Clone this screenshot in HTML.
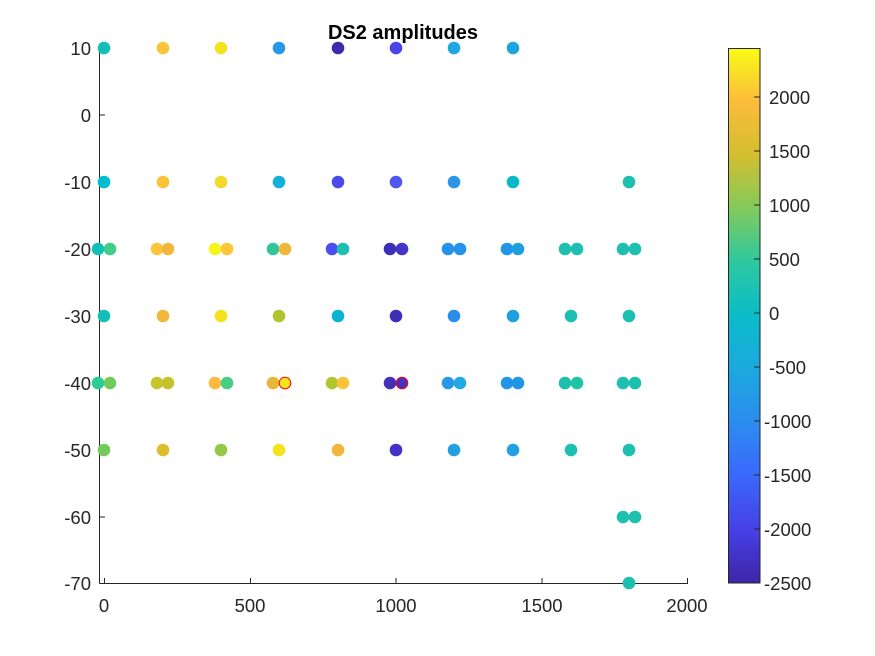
<!DOCTYPE html>
<html><head><meta charset="utf-8"><style>
body{margin:0;background:#fff}
svg{display:block}
text{font-family:"Liberation Sans",sans-serif;fill:#262626}
</style></head><body>
<svg width="875" height="656" xmlns="http://www.w3.org/2000/svg">
<defs>
<linearGradient id="par" x1="0" y1="1" x2="0" y2="0">
<stop offset="0" stop-color="#3e26a8"/>
<stop offset="0.1" stop-color="#4640e6"/>
<stop offset="0.2" stop-color="#3b67fc"/>
<stop offset="0.3" stop-color="#2c8cf0"/>
<stop offset="0.4" stop-color="#1ca9df"/>
<stop offset="0.5" stop-color="#0bbcc8"/>
<stop offset="0.6" stop-color="#2cc8a0"/>
<stop offset="0.7" stop-color="#82ca5c"/>
<stop offset="0.8" stop-color="#d3bf2f"/>
<stop offset="0.9" stop-color="#fbbc3c"/>
<stop offset="1" stop-color="#f9fb15"/>
</linearGradient>
</defs>
<text x="403" y="39" text-anchor="middle" font-size="20" font-weight="bold" style="fill:#000">DS2 amplitudes</text>
<g stroke="#262626" stroke-width="1" fill="none">
<line x1="99.5" y1="48" x2="99.5" y2="583.5"/>
<line x1="99.5" y1="583.5" x2="688" y2="583.5"/>
<line x1="99.5" y1="48" x2="105" y2="48"/>
<line x1="99.5" y1="115" x2="105" y2="115"/>
<line x1="99.5" y1="182" x2="105" y2="182"/>
<line x1="99.5" y1="249" x2="105" y2="249"/>
<line x1="99.5" y1="316" x2="105" y2="316"/>
<line x1="99.5" y1="383" x2="105" y2="383"/>
<line x1="99.5" y1="450" x2="105" y2="450"/>
<line x1="99.5" y1="517" x2="105" y2="517"/>
<line x1="104.5" y1="583.5" x2="104.5" y2="578"/>
<line x1="250.5" y1="583.5" x2="250.5" y2="578"/>
<line x1="396" y1="583.5" x2="396" y2="578"/>
<line x1="542" y1="583.5" x2="542" y2="578"/>
<line x1="687.5" y1="583.5" x2="687.5" y2="578"/>
</g>
<g font-size="18.5" text-anchor="end">
<text x="91" y="55">10</text>
<text x="91" y="122">0</text>
<text x="91" y="189">-10</text>
<text x="91" y="256">-20</text>
<text x="91" y="323">-30</text>
<text x="91" y="390">-40</text>
<text x="91" y="457">-50</text>
<text x="91" y="524">-60</text>
<text x="91" y="590">-70</text>
</g>
<g font-size="18.5" text-anchor="middle">
<text x="104" y="612">0</text>
<text x="250" y="612">500</text>
<text x="396" y="612">1000</text>
<text x="542" y="612">1500</text>
<text x="687" y="612">2000</text>
</g>
<rect x="728.5" y="48.5" width="31.5" height="534.5" fill="url(#par)" stroke="#262626"/>
<g stroke="#262626">
<line x1="754" y1="97" x2="760" y2="97"/><line x1="754" y1="151" x2="760" y2="151"/>
<line x1="754" y1="205" x2="760" y2="205"/><line x1="754" y1="259" x2="760" y2="259"/>
<line x1="754" y1="313" x2="760" y2="313"/><line x1="754" y1="367" x2="760" y2="367"/>
<line x1="754" y1="421" x2="760" y2="421"/><line x1="754" y1="475" x2="760" y2="475"/>
<line x1="754" y1="529" x2="760" y2="529"/>
</g>
<g font-size="18.5">
<text x="769" y="104">2000</text><text x="769" y="158">1500</text>
<text x="769" y="212">1000</text><text x="769" y="266">500</text>
<text x="769" y="320">0</text><text x="769" y="374">-500</text>
<text x="764" y="428">-1000</text><text x="764" y="482">-1500</text>
<text x="764" y="536">-2000</text><text x="764" y="590">-2500</text>
</g>
<g>
<circle cx="104" cy="48" r="6.3" fill="#14bfb5"/>
<circle cx="163" cy="48" r="6.3" fill="#fcc33a"/>
<circle cx="221" cy="48" r="6.3" fill="#f4e21f"/>
<circle cx="279" cy="48" r="6.3" fill="#2a98e8"/>
<circle cx="338" cy="48" r="6.3" fill="#3d2bac"/>
<circle cx="396" cy="48" r="6.3" fill="#4a45e6"/>
<circle cx="454" cy="48" r="6.3" fill="#1fa7e2"/>
<circle cx="513" cy="48" r="6.3" fill="#1fa4e0"/>

<circle cx="104" cy="182" r="6.3" fill="#00bdcf"/>
<circle cx="163" cy="182" r="6.3" fill="#fcc33a"/>
<circle cx="221" cy="182" r="6.3" fill="#f4d82a"/>
<circle cx="279" cy="182" r="6.3" fill="#14b0dc"/>
<circle cx="338" cy="182" r="6.3" fill="#4a4be8"/>
<circle cx="396" cy="182" r="6.3" fill="#4f57ee"/>
<circle cx="454" cy="182" r="6.3" fill="#2a94e8"/>
<circle cx="513" cy="182" r="6.3" fill="#05b9c8"/>
<circle cx="629" cy="182" r="6.3" fill="#1ebfb0"/>

<circle cx="98" cy="249" r="6.3" fill="#14bfb5"/><circle cx="110" cy="249" r="6.3" fill="#42cc8a"/>
<circle cx="157" cy="249" r="6.3" fill="#fcc43a"/><circle cx="168" cy="249" r="6.3" fill="#f2b73a"/>
<circle cx="215" cy="249" r="6.3" fill="#f7f41a"/><circle cx="227" cy="249" r="6.3" fill="#fcc53a"/>
<circle cx="273" cy="249" r="6.3" fill="#30c898"/><circle cx="285" cy="249" r="6.3" fill="#f2b73a"/>
<circle cx="332" cy="249" r="6.3" fill="#4a50f0"/><circle cx="343" cy="249" r="6.3" fill="#1ebfb0"/>
<circle cx="390" cy="249" r="6.3" fill="#3e2fb6"/><circle cx="402" cy="249" r="6.3" fill="#4536c8"/>
<circle cx="448" cy="249" r="6.3" fill="#2792ea"/><circle cx="460" cy="249" r="6.3" fill="#2792ea"/>
<circle cx="507" cy="249" r="6.3" fill="#2195e6"/><circle cx="518" cy="249" r="6.3" fill="#1ea0e0"/>
<circle cx="565" cy="249" r="6.3" fill="#1dc0b0"/><circle cx="577" cy="249" r="6.3" fill="#1dc0b0"/>
<circle cx="623" cy="249" r="6.3" fill="#1ebfb0"/><circle cx="635" cy="249" r="6.3" fill="#1ebfb0"/>

<circle cx="104" cy="316" r="6.3" fill="#14bfb5"/>
<circle cx="163" cy="316" r="6.3" fill="#f2b73a"/>
<circle cx="221" cy="316" r="6.3" fill="#f4e21f"/>
<circle cx="279" cy="316" r="6.3" fill="#afc42f"/>
<circle cx="338" cy="316" r="6.3" fill="#0cb2d2"/>
<circle cx="396" cy="316" r="6.3" fill="#3e2fb6"/>
<circle cx="454" cy="316" r="6.3" fill="#2a8ee9"/>
<circle cx="513" cy="316" r="6.3" fill="#1ea0e0"/>
<circle cx="571" cy="316" r="6.3" fill="#1dc0b0"/>
<circle cx="629" cy="316" r="6.3" fill="#1dc0b0"/>

<circle cx="98" cy="383" r="6.3" fill="#2ccb98"/><circle cx="110" cy="383" r="6.3" fill="#72cb5a"/>
<circle cx="157" cy="383" r="6.3" fill="#c8c42b"/><circle cx="168" cy="383" r="6.3" fill="#c3c42b"/>
<circle cx="215" cy="383" r="6.3" fill="#fcba3d"/><circle cx="227" cy="383" r="6.3" fill="#46ce84"/>
<circle cx="273" cy="383" r="6.3" fill="#e8b536"/><circle cx="285" cy="383" r="5.8" fill="#f3e520" stroke="#f00" stroke-width="1"/>
<circle cx="332" cy="383" r="6.3" fill="#b2c62e"/><circle cx="343" cy="383" r="6.3" fill="#fcc33a"/>
<circle cx="390" cy="383" r="6.3" fill="#4530b8"/><circle cx="402" cy="383" r="5.8" fill="#4530c0" stroke="#f00" stroke-width="1"/>
<circle cx="448" cy="383" r="6.3" fill="#2a98e8"/><circle cx="460" cy="383" r="6.3" fill="#22a8e2"/>
<circle cx="507" cy="383" r="6.3" fill="#2195e6"/><circle cx="518" cy="383" r="6.3" fill="#2195e6"/>
<circle cx="565" cy="383" r="6.3" fill="#1dc0b0"/><circle cx="577" cy="383" r="6.3" fill="#1ec5a5"/>
<circle cx="623" cy="383" r="6.3" fill="#1dc0b0"/><circle cx="635" cy="383" r="6.3" fill="#1dc0b0"/>

<circle cx="104" cy="450" r="6.3" fill="#72cb5a"/>
<circle cx="163" cy="450" r="6.3" fill="#dcbe2c"/>
<circle cx="221" cy="450" r="6.3" fill="#92c843"/>
<circle cx="279" cy="450" r="6.3" fill="#f4e21f"/>
<circle cx="338" cy="450" r="6.3" fill="#f2b73a"/>
<circle cx="396" cy="450" r="6.3" fill="#4530c8"/>
<circle cx="454" cy="450" r="6.3" fill="#22a0e2"/>
<circle cx="513" cy="450" r="6.3" fill="#22a0e2"/>
<circle cx="571" cy="450" r="6.3" fill="#1dc0b0"/>
<circle cx="629" cy="450" r="6.3" fill="#1dc0b0"/>

<circle cx="623" cy="517" r="6.3" fill="#1dc0b0"/><circle cx="635" cy="517" r="6.3" fill="#1dc0b0"/>
<circle cx="629" cy="583" r="6.3" fill="#1dc0b0"/>
</g>
</svg>
</body></html>
